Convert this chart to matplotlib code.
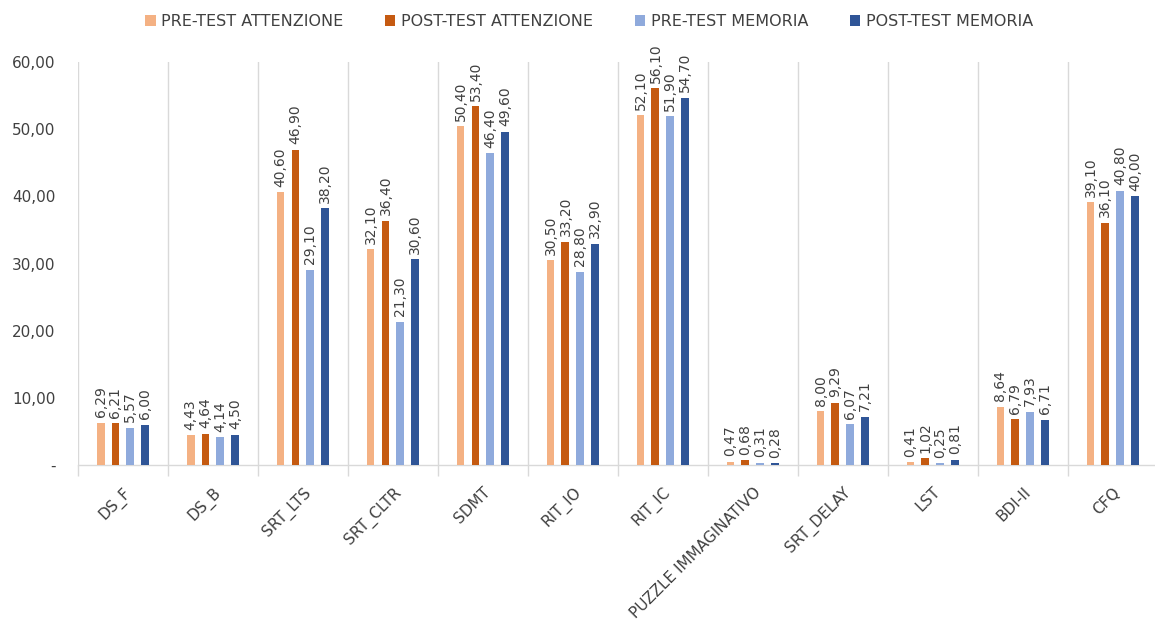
import matplotlib
matplotlib.use("Agg")
import matplotlib.pyplot as plt
import numpy as np

categories = ["DS_F", "DS_B", "SRT_LTS", "SRT_CLTR", "SDMT", "RIT_IO", "RIT_IC",
              "PUZZLE IMMAGINATIVO", "SRT_DELAY", "LST", "BDI-II", "CFQ"]
series_names = ["PRE-TEST ATTENZIONE", "POST-TEST ATTENZIONE", "PRE-TEST MEMORIA", "POST-TEST MEMORIA"]
pre_att = [6.29, 4.43, 40.60, 32.10, 50.40, 30.50, 52.10, 0.47, 8.00, 0.41, 8.64, 39.10]
post_att = [6.21, 4.64, 46.90, 36.40, 53.40, 33.20, 56.10, 0.68, 9.29, 1.02, 6.79, 36.10]
pre_mem = [5.57, 4.14, 29.10, 21.30, 46.40, 28.80, 51.90, 0.31, 6.07, 0.25, 7.93, 40.80]
post_mem = [6.00, 4.50, 38.20, 30.60, 49.60, 32.90, 54.70, 0.28, 7.21, 0.81, 6.71, 40.00]
yticks = [0, 10, 20, 30, 40, 50, 60]
ytick_labels = ["-", "10,00", "20,00", "30,00", "40,00", "50,00", "60,00"]

colors = ["#F4B183", "#C55A11", "#8FAADC", "#2F5597"]
series = [pre_att, post_att, pre_mem, post_mem]

fig = plt.figure(figsize=(11.55, 6.42), dpi=100)
ax = fig.add_axes([0.0675, 0.2757, 0.935, 0.6277])

x = np.arange(len(categories))
width = 0.088
step = 0.166
offsets = (np.arange(4) - 1.5) * step
text_color = "#404040"

for vals, col, off, name in zip(series, colors, offsets, series_names):
    bars = ax.bar(x + off, vals, width=width, color=col, label=name, zorder=3)
    for b, v in zip(bars, vals):
        ax.annotate(f"{v:.2f}".replace(".", ","),
                    xy=(b.get_x() + b.get_width() / 2, v),
                    xytext=(0, 4), textcoords="offset points",
                    rotation=90, ha="center", va="bottom",
                    fontsize=10, color=text_color)

ax.set_xlim(-0.5, len(categories) - 0.5)
ax.set_ylim(0, 60)
ax.set_yticks(yticks)
ax.set_yticklabels(ytick_labels, fontsize=11, color=text_color)
ax.tick_params(axis="y", length=0, pad=16)

ax.set_xticks(x)
ax.set_xticklabels(categories, rotation=45, ha="right", va="top",
                   rotation_mode="anchor", fontsize=11, color=text_color)
ax.tick_params(axis="x", which="major", length=0, pad=14)
ax.set_xticks(np.arange(-0.5, len(categories), 1.0), minor=True)
ax.tick_params(axis="x", which="minor", length=8, color="#D9D9D9", width=1)
ax.grid(axis="x", which="minor", color="#D9D9D9", linewidth=1, zorder=0)
ax.grid(axis="x", which="major", visible=False)

for s in ["top", "right", "left"]:
    ax.spines[s].set_visible(False)
ax.spines["bottom"].set_color("#D9D9D9")
ax.spines["bottom"].set_linewidth(1)

fig.legend(loc="upper center", bbox_to_anchor=(0.51, 1.0), ncol=4, frameon=False,
           fontsize=11.5, handlelength=0.65, handleheight=0.65, columnspacing=2.6,
           handletextpad=0.35, labelcolor=text_color)

fig.savefig("out.png", dpi=100)
